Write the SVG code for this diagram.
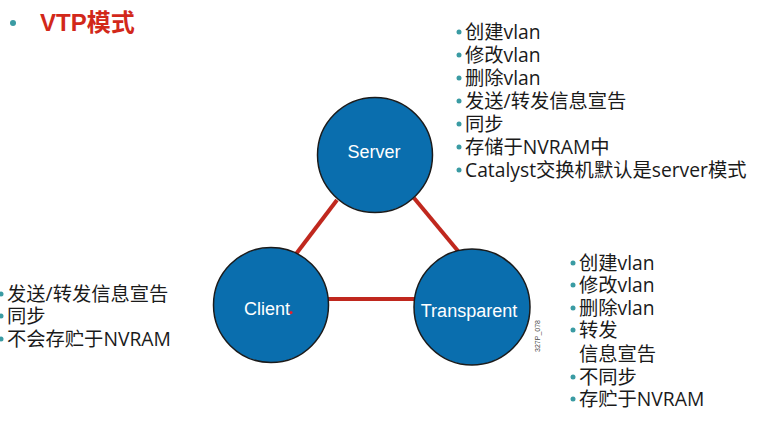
<svg xmlns="http://www.w3.org/2000/svg" width="761" height="434" viewBox="0 0 761 434">
<style>
.node{fill:#0a6eae;stroke:#1b1b1b;stroke-width:1.5}
.nl{fill:#ffffff;font-family:"Liberation Sans",Arial,sans-serif;font-size:18px;text-anchor:middle}
.link{stroke:#c0281e;stroke-width:4;fill:none}
.li{fill:#1a1a1a;font-family:"Open Sans","Noto Sans CJK SC",sans-serif;font-size:19.3px}
.b{fill:#3a9ba3}
</style>
<rect width="761" height="434" fill="#ffffff"/>
<g id="title">
<circle class="b" cx="13" cy="23" r="3"/>
<text x="40" y="31" fill="#d2281a" font-family="'Liberation Sans','Noto Sans CJK SC',sans-serif" font-weight="bold" font-size="24">VTP模式</text>
</g>
<g id="connectors">
<line class="link" x1="337" y1="200" x2="296" y2="254"/>
<line class="link" x1="414" y1="198" x2="458" y2="251"/>
<line class="link" x1="328" y1="299" x2="415" y2="299"/>
</g>
<g id="server">
<circle class="node" cx="375" cy="155" r="57.5"/>
<text class="nl" x="374" y="158">Server</text>
</g>
<g id="client">
<circle class="node" cx="271" cy="305" r="57.5"/>
<text class="nl" x="267" y="315">Client</text>
<circle cx="291" cy="312.5" r="1.6" fill="#e8202a"/>
</g>
<g id="transparent">
<circle class="node" cx="472" cy="307" r="58"/>
<text class="nl" x="469" y="317">Transparent</text>
</g>
<text x="540" y="336" transform="rotate(-90 540 336)" text-anchor="middle" font-family="'Liberation Sans',sans-serif" font-size="7" fill="#444">327P_078</text>
<g id="server-list">
<circle class="b" cx="459" cy="32" r="2.5"/><text class="li" x="465" y="39">创建vlan</text>
<circle class="b" cx="459" cy="55" r="2.5"/><text class="li" x="465" y="62">修改vlan</text>
<circle class="b" cx="459" cy="78" r="2.5"/><text class="li" x="465" y="85">删除vlan</text>
<circle class="b" cx="459" cy="101" r="2.5"/><text class="li" x="465" y="108">发送/转发信息宣告</text>
<circle class="b" cx="459" cy="124" r="2.5"/><text class="li" x="465" y="131">同步</text>
<circle class="b" cx="459" cy="147" r="2.5"/><text class="li" x="465" y="154">存储于NVRAM中</text>
<circle class="b" cx="459" cy="170" r="2.5"/><text class="li" x="465" y="177">Catalyst交换机默认是server模式</text>
</g>
<g id="client-list">
<circle class="b" cx="1" cy="294" r="2.5"/><text class="li" x="7" y="301">发送/转发信息宣告</text>
<circle class="b" cx="1" cy="316" r="2.5"/><text class="li" x="7" y="323">同步</text>
<circle class="b" cx="1" cy="339" r="2.5"/><text class="li" x="7" y="346">不会存贮于NVRAM</text>
</g>
<g id="transparent-list">
<circle class="b" cx="573" cy="263" r="2.5"/><text class="li" x="579" y="270">创建vlan</text>
<circle class="b" cx="573" cy="285" r="2.5"/><text class="li" x="579" y="292">修改vlan</text>
<circle class="b" cx="573" cy="308" r="2.5"/><text class="li" x="579" y="315">删除vlan</text>
<circle class="b" cx="573" cy="330" r="2.5"/><text class="li" x="579" y="337">转发</text>
<text class="li" x="579" y="361">信息宣告</text>
<circle class="b" cx="573" cy="377" r="2.5"/><text class="li" x="579" y="384">不同步</text>
<circle class="b" cx="573" cy="399" r="2.5"/><text class="li" x="579" y="406">存贮于NVRAM</text>
</g>
</svg>
